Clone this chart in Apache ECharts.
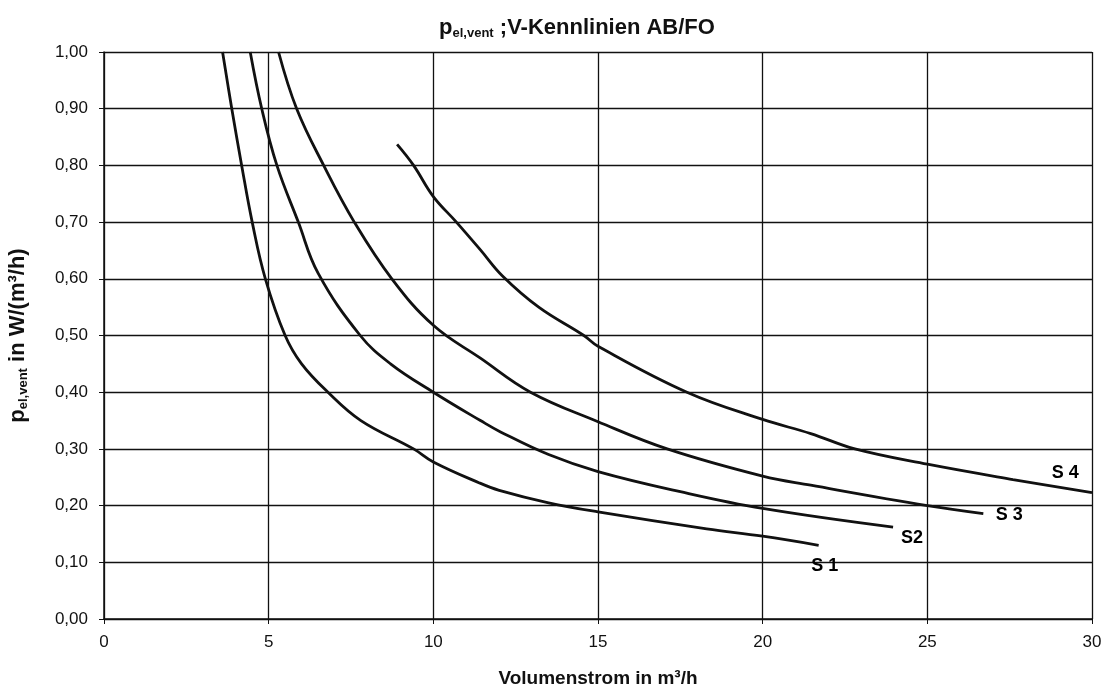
<!DOCTYPE html>
<html lang="de">
<head>
  <meta charset="UTF-8">
  <title>Kennlinien AB/FO</title>
  <style>
    html, body { margin: 0; padding: 0; background: #fff; }
    #main { width: 1108px; height: 688px; }
  </style>
</head>
<body>
  <div id="main"></div>
  <script src="https://cdn.jsdelivr.net/npm/echarts@6/dist/echarts.min.js"></script>
  <script>
    // Kennlinien (x = Volumenstrom, y = p_el,vent)
    const s1X = [3.6, 3.88, 4.18, 4.5, 4.9, 5.5, 6.0, 6.8, 7.8, 9.4, 10, 11.4, 12, 13.5, 15, 18.3, 20, 21.7];
    const s1Y = [1.0, 0.9, 0.8, 0.7, 0.6, 0.5, 0.45, 0.4, 0.35, 0.3, 0.277, 0.24, 0.227, 0.205, 0.189, 0.159, 0.146, 0.13];

    const s2X = [4.44, 4.79, 5.25, 5.9, 6.5, 7.78, 8.7, 10, 11.43, 12.04, 13.5, 15, 17.5, 20, 23.96];
    const s2Y = [1.0, 0.9, 0.8, 0.7, 0.61, 0.5, 0.45, 0.4, 0.35, 0.33, 0.29, 0.26, 0.2245, 0.195, 0.162];

    const s3X = [5.3, 5.85, 6.67, 7.6, 8.74, 10, 11.43, 12.95, 15, 17.1, 20, 21.46, 25, 26.7];
    const s3Y = [1.0, 0.9, 0.8, 0.7, 0.6, 0.518, 0.46, 0.4, 0.348, 0.3, 0.252, 0.236, 0.2, 0.186];

    const s4X = [8.9, 9.4, 10.0, 10.7, 11.43, 12.1, 13.2, 14.57, 15, 17.7, 20, 21.46, 22.8, 25, 27.6, 30];
    const s4Y = [0.837, 0.8, 0.745, 0.7, 0.651, 0.605, 0.55, 0.5, 0.481, 0.4, 0.352, 0.327, 0.3, 0.273, 0.246, 0.223];

    // Beschriftungen der Kurven
    const curveNames = ['S 1', 'S2', 'S 3', 'S 4'];
    const labelX = [21.9, 24.55, 27.5, 29.2];
    const labelY = [0.092, 0.142, 0.183, 0.257];

    const xTicks = [0, 5, 10, 15, 20, 25, 30];
    const yTicks = [0, 0.1, 0.2, 0.3, 0.4, 0.5, 0.6, 0.7, 0.8, 0.9, 1.0];

    const font = 'Liberation Sans, Arial, sans-serif';
    const pairs = (xs, ys) => xs.map((x, i) => [x, ys[i]]);

    function curve(name, xs, ys) {
      return {
        name: name,
        type: 'line',
        data: pairs(xs, ys),
        smooth: 0.4,
        showSymbol: false,
        lineStyle: { color: '#111', width: 2.8 },
        z: 5
      };
    }

    let myChart = echarts.init(document.getElementById('main'));
    let option = {
      backgroundColor: '#fff',
      animation: false,
      textStyle: { fontFamily: font, color: '#111' },
      title: {
        text: '{p|p}{sub|el,vent}{t| ;V-Kennlinien AB/FO}',
        left: 572,
        textAlign: 'center',
        top: 10,
        textStyle: {
          rich: {
            p: { fontFamily: font, fontSize: 22, fontWeight: 'bold', color: '#111' },
            sub: { fontFamily: font, fontSize: 13, fontWeight: 'bold', color: '#111', padding: [12, 0, 0, 0] },
            t: { fontFamily: font, fontSize: 22, fontWeight: 'bold', color: '#111' }
          }
        }
      },
      grid: { left: 104, right: 16, top: 52, bottom: 69, containLabel: false, outerBoundsMode: 'none' },
      xAxis: {
        type: 'value',
        min: 0, max: 30, interval: 5,
        name: 'Volumenstrom in m³/h',
        nameLocation: 'middle',
        nameGap: 50,
        nameTextStyle: { fontFamily: font, fontSize: 19, fontWeight: 'bold', color: '#111' },
        axisLine: { lineStyle: { color: '#111', width: 1.5 } },
        axisTick: { show: true, length: 5, lineStyle: { color: '#111' } },
        axisLabel: {
          fontFamily: font, fontSize: 17, color: '#111', margin: 15,
          formatter: v => xTicks.includes(v) ? String(v) : ''
        },
        splitLine: { show: true, lineStyle: { color: '#111', width: 1.3 } }
      },
      yAxis: {
        type: 'value',
        min: 0, max: 1, interval: 0.1,
        name: '{p|p}{sub|el,vent}{t| in W/(m³/h)}',
        nameLocation: 'middle',
        nameGap: 74,
        nameTextStyle: {
          rich: {
            p: { fontFamily: font, fontSize: 22, fontWeight: 'bold', color: '#111' },
            sub: { fontFamily: font, fontSize: 13, fontWeight: 'bold', color: '#111', padding: [12, 0, 0, 0] },
            t: { fontFamily: font, fontSize: 22, fontWeight: 'bold', color: '#111' }
          }
        },
        axisLine: { show: true, lineStyle: { color: '#111', width: 1.5 } },
        axisTick: { show: true, length: 5, lineStyle: { color: '#111' } },
        axisLabel: {
          fontFamily: font, fontSize: 17, color: '#111', margin: 16,
          formatter: v => {
            const t = yTicks.find(k => Math.abs(k - v) < 1e-6);
            return t === undefined ? '' : t.toFixed(2).replace('.', ',');
          }
        },
        splitLine: { show: true, lineStyle: { color: '#111', width: 1.3 } }
      },
      series: [
        curve('S 1', s1X, s1Y),
        curve('S2', s2X, s2Y),
        curve('S 3', s3X, s3Y),
        curve('S 4', s4X, s4Y),
        {
          type: 'scatter',
          symbolSize: 1,
          itemStyle: { color: 'rgba(0,0,0,0)' },
          silent: true,
          data: curveNames.map((n, i) => ({ value: [labelX[i], labelY[i]], name: n })),
          label: {
            show: true,
            position: [0, 0],
            align: 'center',
            verticalAlign: 'middle',
            formatter: p => p.name,
            fontFamily: font,
            fontSize: 18,
            fontWeight: 'bold',
            color: '#000',
            opacity: 1,
            textBorderWidth: 0
          },
          z: 6
        }
      ]
    };
    myChart.setOption(option);
  </script>
</body>
</html>
